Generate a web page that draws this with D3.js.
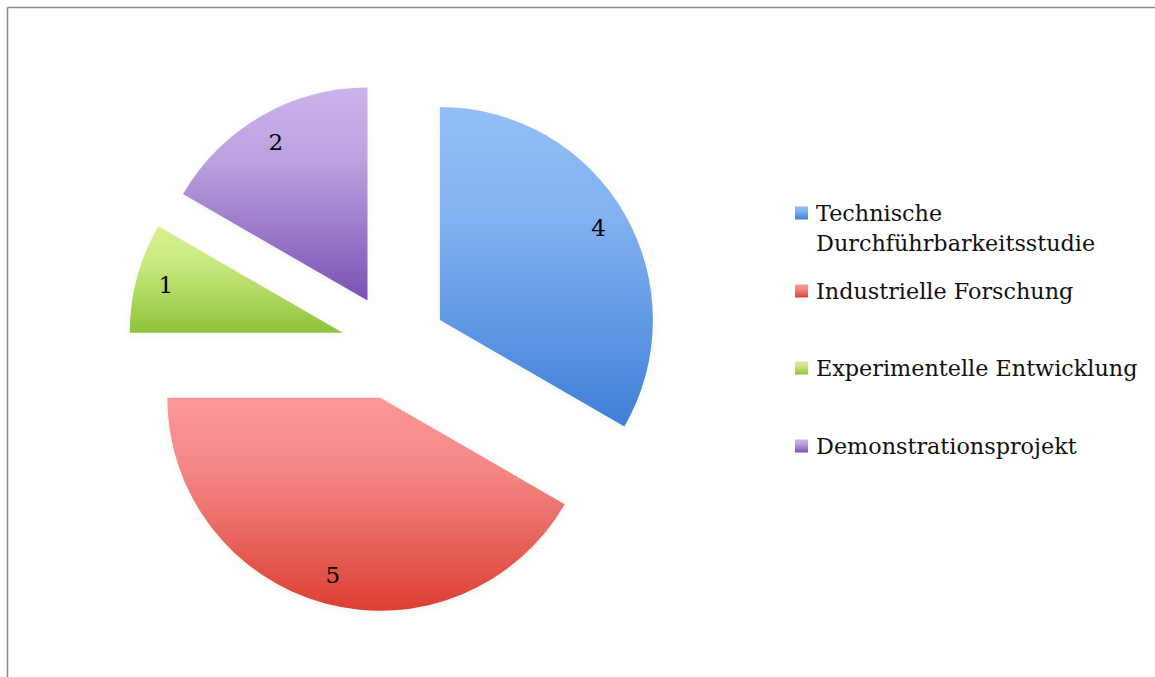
<!DOCTYPE html>
<html><head><meta charset="utf-8">
<script src="https://cdn.jsdelivr.net/npm/d3@7"></script>
<style>
html,body{margin:0;padding:0;background:#fff;}
svg{display:block;}
</style></head>
<body>
<script>
const categories = ["Technische Durchführbarkeitsstudie", "Industrielle Forschung", "Experimentelle Entwicklung", "Demonstrationsprojekt"];
const legendLines = [["Technische", "Durchführbarkeitsstudie"], ["Industrielle Forschung"], ["Experimentelle Entwicklung"], ["Demonstrationsprojekt"]];
const values = [4, 5, 1, 2];
const topColors = ["#93bdf6", "#fa9898", "#d6f290", "#cbb3ea"];
const bottomColors = ["#3f7fd8", "#dc3f33", "#8ec33a", "#7b52b3"];

const W = 1155, H = 677;
const cx = 394, cy = 346.5, R = 213, explode = 53;
const fontFam = "'DejaVu Serif', serif";

const svg = d3.select("body").append("svg").attr("width", W).attr("height", H);
const defs = svg.append("defs");

categories.forEach((c, i) => {
  const g = defs.append("linearGradient").attr("id", "g" + i)
    .attr("x1", 0).attr("y1", 0).attr("x2", 0).attr("y2", 1);
  g.append("stop").attr("offset", "0%").attr("stop-color", topColors[i]);
  g.append("stop").attr("offset", "35%").attr("stop-color", d3.interpolateRgb(topColors[i], bottomColors[i])(0.2));
  g.append("stop").attr("offset", "100%").attr("stop-color", bottomColors[i]);
});
const f = defs.append("filter").attr("id", "sh").attr("x", "-20%").attr("y", "-20%").attr("width", "140%").attr("height", "140%");
f.append("feDropShadow").attr("dx", 0).attr("dy", 2).attr("stdDeviation", 4).attr("flood-color", "#b0a080").attr("flood-opacity", 0.12);

// border
svg.append("line").attr("x1", 7.5).attr("x2", W).attr("y1", 7.5).attr("y2", 7.5).attr("stroke", "#8a8a8a").attr("stroke-width", 1.5);
svg.append("line").attr("x1", 7.5).attr("x2", 7.5).attr("y1", 7.5).attr("y2", H).attr("stroke", "#8a8a8a").attr("stroke-width", 1.5);

const pie = d3.pie().sort(null).value(d => d)(values);
const arc = d3.arc().innerRadius(0).outerRadius(R);

const slices = svg.append("g").attr("transform", `translate(${cx},${cy})`)
  .selectAll("g").data(pie).join("g")
  .attr("transform", d => {
    const m = (d.startAngle + d.endAngle) / 2;
    return `translate(${Math.sin(m) * explode},${-Math.cos(m) * explode})`;
  });
slices.append("path").attr("d", arc).attr("fill", (d, i) => `url(#g${i})`).attr("filter", "url(#sh)");
slices.append("text")
  .attr("x", d => Math.sin((d.startAngle + d.endAngle) / 2) * R * 0.86)
  .attr("y", d => -Math.cos((d.startAngle + d.endAngle) / 2) * R * 0.86)
  .attr("dy", "0.35em").attr("text-anchor", "middle")
  .attr("font-family", fontFam).attr("font-size", 23).attr("fill", "#000")
  .text(d => d.data);

// legend
const legY = [213, 291, 368, 446];
const leg = svg.append("g");
categories.forEach((c, i) => {
  leg.append("rect").attr("x", 795).attr("y", legY[i] - 6.5).attr("width", 13).attr("height", 13)
    .attr("fill", `url(#g${i})`);
  const t = leg.append("text").attr("x", 816).attr("y", legY[i])
    .attr("font-family", fontFam).attr("font-size", 22.3).attr("fill", "#111");
  legendLines[i].forEach((ln, j) => {
    t.append("tspan").attr("x", 816).attr("dy", j === 0 ? "0.35em" : 30).text(ln);
  });
});
</script>
</body></html>
